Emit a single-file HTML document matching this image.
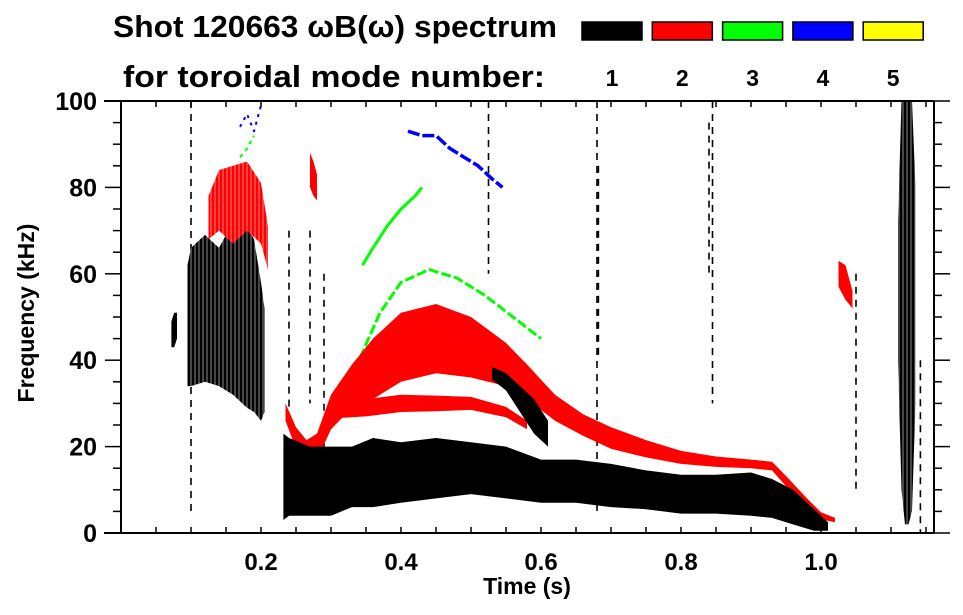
<!DOCTYPE html>
<html><head><meta charset="utf-8">
<style>
html,body{margin:0;padding:0;background:#fff;}
svg{display:block;font-family:"Liberation Sans",Arial,sans-serif;font-weight:bold;}
</style></head>
<body>
<svg id="chart" width="963" height="615" viewBox="0 0 963 615">
  <defs>
    <pattern id="streakK" width="4" height="6" patternUnits="userSpaceOnUse">
      <rect width="4" height="6" fill="#000"/><rect x="2.5" y="0" width="1" height="6" fill="#fff" opacity="0.55"/>
    </pattern>
    <pattern id="streakR" width="4" height="6" patternUnits="userSpaceOnUse">
      <rect width="4" height="6" fill="#f00"/><rect x="2.5" y="0" width="1" height="6" fill="#fff" opacity="0.5"/>
    </pattern>
  </defs>
  <g>
    <text x="113" y="37" font-size="31" textLength="444" lengthAdjust="spacingAndGlyphs">Shot 120663 ωB(ω) spectrum</text>
    <text x="123" y="87" font-size="31" textLength="422" lengthAdjust="spacingAndGlyphs">for toroidal mode number:</text>
  </g>
  <g id="legend"></g>
  <g id="marks"></g>
  <g id="axes"></g>
</svg>
<script>
// ---- axis config ----
const xTicksMajor = [0.2, 0.4, 0.6, 0.8, 1.0];
const xTickLabels = ["0.2", "0.4", "0.6", "0.8", "1.0"];
const yTicksMajor = [0, 20, 40, 60, 80, 100];
const yTickLabels = ["0", "20", "40", "60", "80", "100"];
const modeNumbers = ["1", "2", "3", "4", "5"];
const modeColors = ["#000000", "#ff0000", "#00ff00", "#0000ff", "#ffff00"];

// ---- mode 1 (black) low-frequency band ----
const m1BandT = [0.232, 0.24, 0.27, 0.30, 0.33, 0.36, 0.40, 0.45, 0.50, 0.55, 0.60, 0.65, 0.70, 0.75, 0.80, 0.85, 0.90, 0.93, 0.96, 0.99, 1.01];
const m1BandF = [13, 13, 12, 12, 13, 14, 14, 15, 15, 14, 12, 12, 11, 10, 9, 9, 9, 8, 6, 3, 1.5];
const m1BandH = [10, 9, 8, 8, 7, 8, 7, 7, 6, 6, 5, 5, 5, 4.5, 4.5, 4.5, 5, 4.5, 4, 2.5, 1];
// early black blob
const m1EarlyT = [0.095, 0.10, 0.12, 0.14, 0.16, 0.18, 0.19, 0.20, 0.205];
const m1EarlyF = [48, 50, 52, 50, 52, 50, 48, 42, 40];
const m1EarlyH = [14, 16, 17, 16, 20, 21, 20, 16, 12];
// diagonal black branch
const m1DiagT = [0.53, 0.55, 0.57, 0.59, 0.61];
const m1DiagF = [37, 35, 31, 27, 23];
const m1DiagH = [1.5, 2, 3, 4, 3];
// small early feature
const m1SmallT = [0.072, 0.076, 0.08];
const m1SmallF = [46, 47, 48];
const m1SmallH = [3, 4, 3];
// right-hand vertical black band
const m1RightT = [1.11, 1.115, 1.12, 1.125, 1.13, 1.135];
const m1RightLo = [40, 10, 2, 2, 5, 30];
const m1RightHi = [72, 100, 100, 100, 100, 80];
// vertical dashed streaks (time, fLow, fHigh)
const streakT = [0.10, 0.24, 0.27, 0.29, 0.68, 0.682, 0.845, 0.84, 1.05, 0.525, 1.142];
const streakLo = [5, 25, 30, 20, 5, 40, 30, 60, 10, 60, 0];
const streakHi = [100, 70, 70, 60, 100, 85, 100, 95, 60, 100, 40];

// ---- mode 2 (red) ----
const m2ArchT = [0.235, 0.25, 0.265, 0.28, 0.30, 0.33, 0.36, 0.40, 0.45, 0.50, 0.55, 0.58, 0.62, 0.66, 0.70, 0.75, 0.80, 0.85, 0.90, 0.93, 0.95, 0.98, 1.0, 1.02];
const m2ArchF = [28, 22, 19, 20, 28, 34, 38, 43, 45, 43, 39, 35, 29, 25, 22, 19.5, 17.5, 16.5, 16, 15.5, 12, 7, 4, 3];
const m2ArchH = [2, 2.5, 2.5, 3, 4, 5, 7, 8, 8, 7, 5, 4, 3, 2.5, 2.5, 2, 1.5, 1.2, 1, 1, 1.2, 1, 0.8, 0.5];
const m2LowT = [0.30, 0.35, 0.40, 0.45, 0.50, 0.55, 0.58];
const m2LowF = [29, 29, 30, 30, 30, 28, 25];
const m2LowH = [2.5, 2, 2, 1.8, 1.5, 1.2, 1];
const m2EarlyT = [0.125, 0.14, 0.16, 0.18, 0.2, 0.21];
const m2EarlyF = [73, 77, 76, 78, 74, 66];
const m2EarlyH = [5, 7, 9, 8, 7, 5];
const m2SpotT = [0.27, 0.275, 0.28];
const m2SpotF = [84, 82, 80];
const m2SpotH = [4, 4, 3];
const m2LateT = [1.025, 1.035, 1.045];
const m2LateF = [60, 58, 54];
const m2LateH = [3, 4, 2];

// ---- mode 3 (green) ----
const m3UpperT = [0.345, 0.36, 0.38, 0.40, 0.42, 0.43];
const m3UpperF = [62, 66, 71, 75, 78, 80];
const m3LowerT = [0.28, 0.31, 0.34, 0.37, 0.40, 0.44, 0.48, 0.52, 0.56, 0.60];
const m3LowerF = [22, 30, 40, 51, 58, 61, 59, 55, 50, 45];
const m3EarlyT = [0.17, 0.18, 0.19];
const m3EarlyF = [87, 89, 92];

// ---- mode 4 (blue) ----
const m4ArcT = [0.41, 0.43, 0.45, 0.47, 0.49, 0.51, 0.53, 0.545];
const m4ArcF = [93, 92, 92, 89, 87, 85, 82, 80];
const m4EarlyT = [0.17, 0.18, 0.19, 0.20];
const m4EarlyF = [94, 97, 93, 99];

// ---- scales ----
const X0 = 121, XPX = 700, Y0 = 533, YPX = 4.32;
function xs(t){ return X0 + XPX * t; }
function ys(f){ return Y0 - YPX * f; }
const NS = "http://www.w3.org/2000/svg";
const marks = document.getElementById('marks');
const axes = document.getElementById('axes');
const legend = document.getElementById('legend');
function mk(tag, attrs, parent){
  const e = document.createElementNS(NS, tag);
  for (const k in attrs) e.setAttribute(k, attrs[k]);
  parent.appendChild(e);
  return e;
}
function band(T, F, H, fill, name){
  let top = [], bot = [];
  for (let i = 0; i < T.length; i++){
    top.push(xs(T[i]).toFixed(1) + ',' + ys(F[i] + H[i]).toFixed(1));
    bot.unshift(xs(T[i]).toFixed(1) + ',' + ys(F[i] - H[i]).toFixed(1));
  }
  const p = mk('polygon', {points: top.concat(bot).join(' '), fill: fill}, marks);
  
  
  return p;
}
function rangeBand(T, LO, HI, fill, name){
  let top = [], bot = [];
  for (let i = 0; i < T.length; i++){
    top.push(xs(T[i]).toFixed(1) + ',' + ys(HI[i]).toFixed(1));
    bot.unshift(xs(T[i]).toFixed(1) + ',' + ys(LO[i]).toFixed(1));
  }
  const p = mk('polygon', {points: top.concat(bot).join(' '), fill: fill}, marks);
  
  
}
function line(T, F, color, w, name, dash){
  const pts = T.map((t, i) => xs(t).toFixed(1) + ',' + ys(F[i]).toFixed(1)).join(' ');
  const a = {points: pts, fill: 'none', stroke: color, 'stroke-width': w, 'stroke-linejoin': 'round'};
  if (dash) a['stroke-dasharray'] = dash;
  const p = mk('polyline', a, marks);
  
  
}

// streaks
for (let i = 0; i < streakT.length; i++){
  const l = mk('line', {x1: xs(streakT[i]), x2: xs(streakT[i]), y1: ys(streakHi[i]), y2: ys(streakLo[i]), stroke: '#000', 'stroke-width': 1.6, 'stroke-dasharray': '7 6'}, marks);
  
  
}
// mode 1
band(m1EarlyT, m1EarlyF, m1EarlyH, 'url(#streakK)', 'mode1-early-blob');
band(m1SmallT, m1SmallF, m1SmallH, '#000', 'mode1-small-feature');
rangeBand(m1RightT, m1RightLo, m1RightHi, 'url(#streakK)', 'mode1-right-band');
// mode 3 / 4 (behind red)
line(m3UpperT, m3UpperF, '#00ff00', 3, 'mode3-upper-arc');
line(m3LowerT, m3LowerF, '#00ff00', 3, 'mode3-lower-arc', '10 3');
line(m3EarlyT, m3EarlyF, '#00ff00', 2, 'mode3-early', '4 4');
line(m4ArcT, m4ArcF, '#0000ff', 3.5, 'mode4-arc', '12 3');
line(m4EarlyT, m4EarlyF, '#0000ff', 2, 'mode4-early', '3 5');
// mode 2
band(m2EarlyT, m2EarlyF, m2EarlyH, 'url(#streakR)', 'mode2-early-band');
band(m2ArchT, m2ArchF, m2ArchH, '#ff0000', 'mode2-arch');
band(m2LowT, m2LowF, m2LowH, '#ff0000', 'mode2-lower-line');
band(m2SpotT, m2SpotF, m2SpotH, '#ff0000', 'mode2-spot');
band(m2LateT, m2LateF, m2LateH, '#ff0000', 'mode2-late-blob');
// mode 1 main band on top
band(m1BandT, m1BandF, m1BandH, '#000', 'mode1-main-band');
band(m1DiagT, m1DiagF, m1DiagH, '#000', 'mode1-diagonal-branch');

// ---- axes ----
const XR = 934, YT = 101;
mk('line', {x1: X0, x2: X0, y1: YT, y2: Y0, stroke: '#000', 'stroke-width': 2}, axes);
mk('line', {x1: XR, x2: XR, y1: YT, y2: Y0, stroke: '#000', 'stroke-width': 2}, axes);
mk('line', {x1: 104, x2: XR, y1: Y0, y2: Y0, stroke: '#000', 'stroke-width': 2}, axes);
mk('line', {x1: 104, x2: XR, y1: YT, y2: YT, stroke: '#000', 'stroke-width': 2}, axes);
for (let f = 0; f <= 100; f += 5){
  const major = f % 20 === 0;
  mk('line', {x1: X0 - (major ? 16 : 8), x2: X0, y1: ys(f), y2: ys(f), stroke: '#000', 'stroke-width': 1.5}, axes);
  mk('line', {x1: XR, x2: XR + (major ? 16 : 8), y1: ys(f), y2: ys(f), stroke: '#000', 'stroke-width': 1.5}, axes);
}
for (let i = 1; i * 0.05 < 1.16; i++){
  const t = i * 0.05;
  mk('line', {x1: xs(t), x2: xs(t), y1: Y0, y2: Y0 - 6, stroke: '#000', 'stroke-width': 1.5}, axes);
  mk('line', {x1: xs(t), x2: xs(t), y1: YT, y2: YT + 6, stroke: '#000', 'stroke-width': 1.5}, axes);
}
xTicksMajor.forEach((t, i) => {
  const tx = mk('text', {x: xs(t), y: 570, 'font-size': 24, 'text-anchor': 'middle'}, axes);
  tx.textContent = xTickLabels[i];
  
  
});
yTicksMajor.forEach((f, i) => {
  const tx = mk('text', {x: 97, y: ys(f) + 9, 'font-size': 25, 'text-anchor': 'end'}, axes);
  tx.textContent = yTickLabels[i];
  
  
});
const xt = mk('text', {x: 527, y: 594, 'font-size': 23, 'text-anchor': 'middle'}, axes);
xt.textContent = 'Time (s)';


const yt = mk('text', {x: 0, y: 0, 'font-size': 23, 'text-anchor': 'middle', transform: 'translate(34,313) rotate(-90)'}, axes);
yt.textContent = 'Frequency (kHz)';



// ---- legend ----
modeNumbers.forEach((n, i) => {
  const x = 582 + i * 70.3;
  const r = mk('rect', {x: x, y: 22, width: 60, height: 18, fill: modeColors[i], stroke: '#000', 'stroke-width': 1.5}, legend);
  
  
  const tx = mk('text', {x: x + 30, y: 86, 'font-size': 23, 'text-anchor': 'middle'}, legend);
  tx.textContent = n;
  
  
});
</script>
</body></html>
